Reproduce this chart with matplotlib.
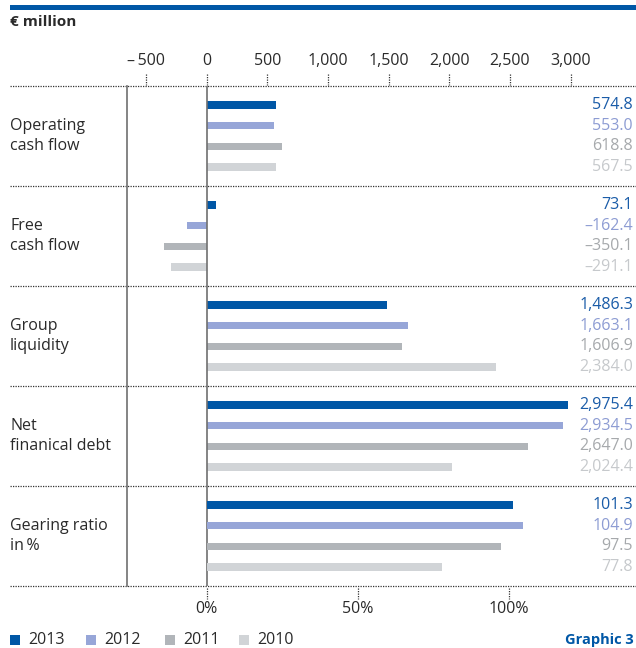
import matplotlib.pyplot as plt
from matplotlib.patches import Rectangle
from matplotlib.lines import Line2D
from matplotlib.transforms import blended_transform_factory

plt.rcParams['font.family'] = ['Open Sans', 'DejaVu Sans']

# key figures, € million unless noted
years = ["2013", "2012", "2011", "2010"]
group_lines = [("Operating", "cash flow"), ("Free", "cash flow"), ("Group", "liquidity"),
               ("Net", "finanical debt"), ("Gearing ratio", "in\u2009%")]
operating_cf = [574.8, 553.0, 618.8, 567.5]
free_cf = [73.1, -162.4, -350.1, -291.1]
liquidity = [1486.3, 1663.1, 1606.9, 2384.0]
net_debt = [2975.4, 2934.5, 2647.0, 2024.4]
gearing = [101.3, 104.9, 97.5, 77.8]
eur_ticks = [-500, 0, 500, 1000, 1500, 2000, 2500, 3000]
pct_ticks = [0, 50, 100]

bar_colors = ["#0057a6", "#97a6d8", "#b1b5b9", "#d1d4d7"]
text_colors = ["#1a5ca8", "#8d9cd3", "#a6a9ac", "#c6c9cc"]
blue = "#0057a6"
dark = "#2a2a2a"
FS = 11.5


def fmt(v):
    s = f"{v:,.1f}"
    return s.replace("-", "\u2013")


W, H = 636, 648
fig = plt.figure(figsize=(W / 100, H / 100), dpi=100)

# px -> data scales
zero_px = 206.7
eur_per_px = 1 / 0.1213
pct_per_px = 1 / 3.02

ax = fig.add_axes([10 / W, 1 - 586 / H, 626 / W, 500 / H])
ax.set_xlim((10 - zero_px) * eur_per_px, (636 - zero_px) * eur_per_px)
ax.set_ylim(5, 0)
ax2 = ax.twiny()
ax2.set_xlim((10 - zero_px) * pct_per_px, (636 - zero_px) * pct_per_px)
ax2.set_ylim(5, 0)

for a in (ax, ax2):
    for sp in a.spines.values():
        sp.set_visible(False)
    a.set_yticks([])

ax.xaxis.tick_top()
ax.set_xticks(eur_ticks)
ax.set_xticklabels([f"{t:,}".replace("-", "\u2013\u2009") for t in eur_ticks])
ax.tick_params(axis="x", length=0, pad=12, labelsize=FS, labelcolor=dark)

ax2.xaxis.set_ticks_position("bottom")
ax2.xaxis.set_label_position("bottom")
ax2.set_xticks(pct_ticks)
ax2.set_xticklabels([f"{t}%" for t in pct_ticks])
ax2.tick_params(axis="x", length=0, pad=11, labelsize=FS, labelcolor=dark)

# dotted tick marks
ax.vlines(eur_ticks, -0.12, -0.01, colors="#333333", linestyles=(0, (1, 1)), lw=0.9, clip_on=False)
ax2.vlines(pct_ticks, 5.02, 5.13, colors="#333333", linestyles=(0, (1, 1)), lw=0.9, clip_on=False)

# separators
for y in range(6):
    ax.axhline(y, color="#333333", ls=(0, (1, 1)), lw=0.9, clip_on=False)

ax.axvline(0, color="#707070", lw=1.2)
fig.add_artist(Line2D([127 / W, 127 / W], [1 - 86 / H, 1 - 586 / H], color="#707070", lw=1.2))

offsets = [-0.312, -0.104, 0.104, 0.312]
series = [operating_cf, free_cf, liquidity, net_debt, gearing]
tr = blended_transform_factory(ax.transAxes, ax.transData)
for gi, vals in enumerate(series):
    target = ax2 if gi == 4 else ax
    for j, v in enumerate(vals):
        y = gi + 0.5 + offsets[j]
        target.barh(y, v, height=0.075, color=bar_colors[j], lw=0)
        ax.text(1 - 3 / 626, y, fmt(v), transform=tr, ha="right", va="center",
                fontsize=FS, color=text_colors[j])
    l1, l2 = group_lines[gi]
    ax.text(0, gi + 0.5 + offsets[1], l1, transform=tr, ha="left", va="center",
            fontsize=FS, color=dark)
    ax.text(0, gi + 0.5 + offsets[2], l2, transform=tr, ha="left", va="center",
            fontsize=FS, color=dark)

# header
fig.add_artist(Rectangle((10 / W, 1 - 10 / H), 626 / W, 5 / H, transform=fig.transFigure,
                         color=blue, lw=0))
fig.text(10 / W, 1 - 22 / H, "\u20ac million", fontsize=11, fontweight="bold",
         va="center", ha="left", color=dark)

# legend
leg_x = [10, 86, 165, 239]
for j, yr in enumerate(years):
    fig.add_artist(Rectangle((leg_x[j] / W, 1 - 645 / H), 10 / W, 10 / H,
                             transform=fig.transFigure, color=bar_colors[j], lw=0))
    fig.text((leg_x[j] + 18) / W, 1 - 640 / H, yr, fontsize=FS, va="center", ha="left",
             color=dark)
fig.text(634 / W, 1 - 640 / H, "Graphic 3", fontsize=10.5, fontweight="bold", va="center",
         ha="right", color=blue)

fig.savefig("out.png", dpi=100)
